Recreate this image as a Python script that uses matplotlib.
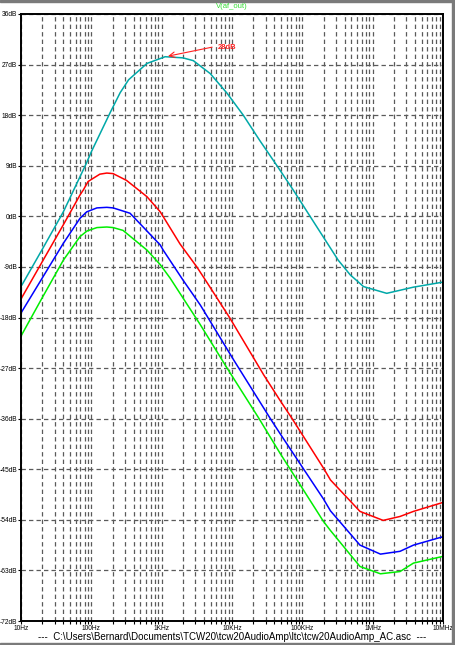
import matplotlib
matplotlib.use("Agg")
import matplotlib.pyplot as plt
from matplotlib.ticker import FixedLocator, LogLocator, NullFormatter
from matplotlib.patches import Rectangle

plt.rcParams["font.family"] = ["Liberation Sans", "DejaVu Sans"]

# frequency response (Hz, dB)
cyan_f = [10, 20, 40, 84, 101, 186, 257, 339, 617, 1120, 2000, 2820, 4900,
          8510, 14450, 25100, 43650, 74100, 128800, 323600, 478600, 741300,
          1585000, 3802000, 10000000]
cyan_db = [-12.5, -5.9, 0.8, 9.3, 11.6, 18.5, 22.0, 24.3, 27.2, 28.4, 28.2,
           27.7, 25.4, 21.9, 18.0, 13.4, 9.0, 4.7, 0.0, -7.8, -10.4, -12.5,
           -13.7, -12.6, -11.7]

red_f = [10, 20, 40, 69, 77, 90, 132, 166, 204, 316, 617, 955, 1820, 3160,
         4170, 9330, 28200, 47900, 70800, 200000, 251000, 660000, 1410000,
         2450000, 3800000, 10000000]
red_db = [-14.7, -8.1, -1.5, 3.8, 4.7, 6.2, 7.5, 7.7, 7.6, 6.4, 3.5, 0.8,
          -4.9, -9.0, -11.3, -18.1, -28.2, -32.7, -35.9, -44.8, -46.9, -52.5,
          -54.1, -53.4, -52.5, -50.9]

blue_f = [10, 20, 40, 69, 86, 120, 166, 204, 355, 955, 1050, 2000, 3550,
          10500, 34700, 47900, 200000, 251000, 660000, 1290000, 2450000,
          3800000, 10000000]
blue_db = [-17.2, -11.0, -4.8, -0.35, 0.8, 1.5, 1.6, 1.5, 0.55, -5.1, -6.0,
           -11.3, -15.8, -25.5, -35.9, -38.6, -50.3, -52.4, -58.5, -60.1,
           -59.6, -58.5, -57.0]

green_f = [10, 20, 40, 69, 87, 120, 166, 204, 282, 617, 955, 1320, 3550,
           8510, 24000, 47900, 200000, 251000, 660000, 1290000, 2450000,
           3800000, 10000000]
green_db = [-21.3, -14.5, -7.8, -3.6, -2.6, -2.0, -1.9, -2.0, -2.5, -6.0,
            -8.6, -11.0, -19.3, -27.0, -35.9, -42.1, -54.3, -55.9, -62.3,
            -63.6, -63.2, -61.7, -60.5]

y_ticks = [36, 27, 18, 9, 0, -9, -18, -27, -36, -45, -54, -63, -72]
x_ticks = [10, 100, 1e3, 1e4, 1e5, 1e6, 1e7]
x_labels = ["10Hz", "100Hz", "1KHz", "10KHz", "100KHz", "1MHz", "10MHz"]

fig = plt.figure(figsize=(4.56, 6.45), dpi=100)
ax = fig.add_axes([21 / 456, 1 - 621 / 645, 422 / 456, 607 / 645])

for f, db, c in [(cyan_f, cyan_db, "#00a8a8"), (red_f, red_db, "#ff0000"),
                 (blue_f, blue_db, "#0000ff"), (green_f, green_db, "#00ee00")]:
    ax.plot(f, db, color=c, lw=1.1, solid_joinstyle="round")

ax.set_xscale("log")
ax.set_xlim(10, 1e7)
ax.set_ylim(-72, 36)

ax.yaxis.set_major_locator(FixedLocator(y_ticks))
ax.set_yticklabels([f"{v}dB" for v in y_ticks])
ax.xaxis.set_major_locator(FixedLocator(x_ticks))
ax.set_xticklabels(x_labels)
ax.xaxis.set_minor_locator(LogLocator(base=10, subs=range(2, 10)))
ax.xaxis.set_minor_formatter(NullFormatter())

ax.tick_params(axis="both", which="major", labelsize=4.8, length=2,
               width=0.8, pad=0.8, labelcolor="black")
ax.tick_params(axis="x", which="minor", length=2, width=0.8)

grid_kw = dict(color="#5a5a5a", linestyle=(0, (3.5, 2.5)), linewidth=0.9)
ax.grid(True, which="major", axis="both", **grid_kw)
ax.grid(True, which="minor", axis="x", **grid_kw)

for s in ax.spines.values():
    s.set_color("black")
    s.set_linewidth(1.4)

fig.text(232 / 456, 1 - 7 / 645, "V(af_out)", color="#33dd33",
         fontsize=5.5, ha="center", va="center")

ax.annotate("", xy=(1230, 28.5), xytext=(5210, 30.1),
            arrowprops=dict(arrowstyle="->", color="#ff2020", lw=0.8,
                            shrinkA=0, shrinkB=0))
ax.text(6300, 30.0, "28dB", color="#ff2020", fontsize=5.5,
        fontweight="bold", va="center", ha="left")

fig.text(232 / 456, 1 - 636.5 / 645,
         r"---  C:\Users\Bernard\Documents\TCW20\tcw20AudioAmp\ltc\tcw20AudioAmp_AC.asc  ---",
         color="black", fontsize=7, ha="center", va="center")

# window frame edges
fig.patches.append(Rectangle((0, 1 - 2 / 645), 1, 2 / 645, transform=fig.transFigure,
                             color="#7a7a7a", zorder=0))
fig.patches.append(Rectangle((452 / 456, 0), 4 / 456, 1, transform=fig.transFigure,
                             color="#7a7a7a", zorder=0))
fig.patches.append(Rectangle((0, 0), 1, 2 / 645, transform=fig.transFigure,
                             color="#7a7a7a", zorder=0))

fig.savefig("out.png", dpi=100)
